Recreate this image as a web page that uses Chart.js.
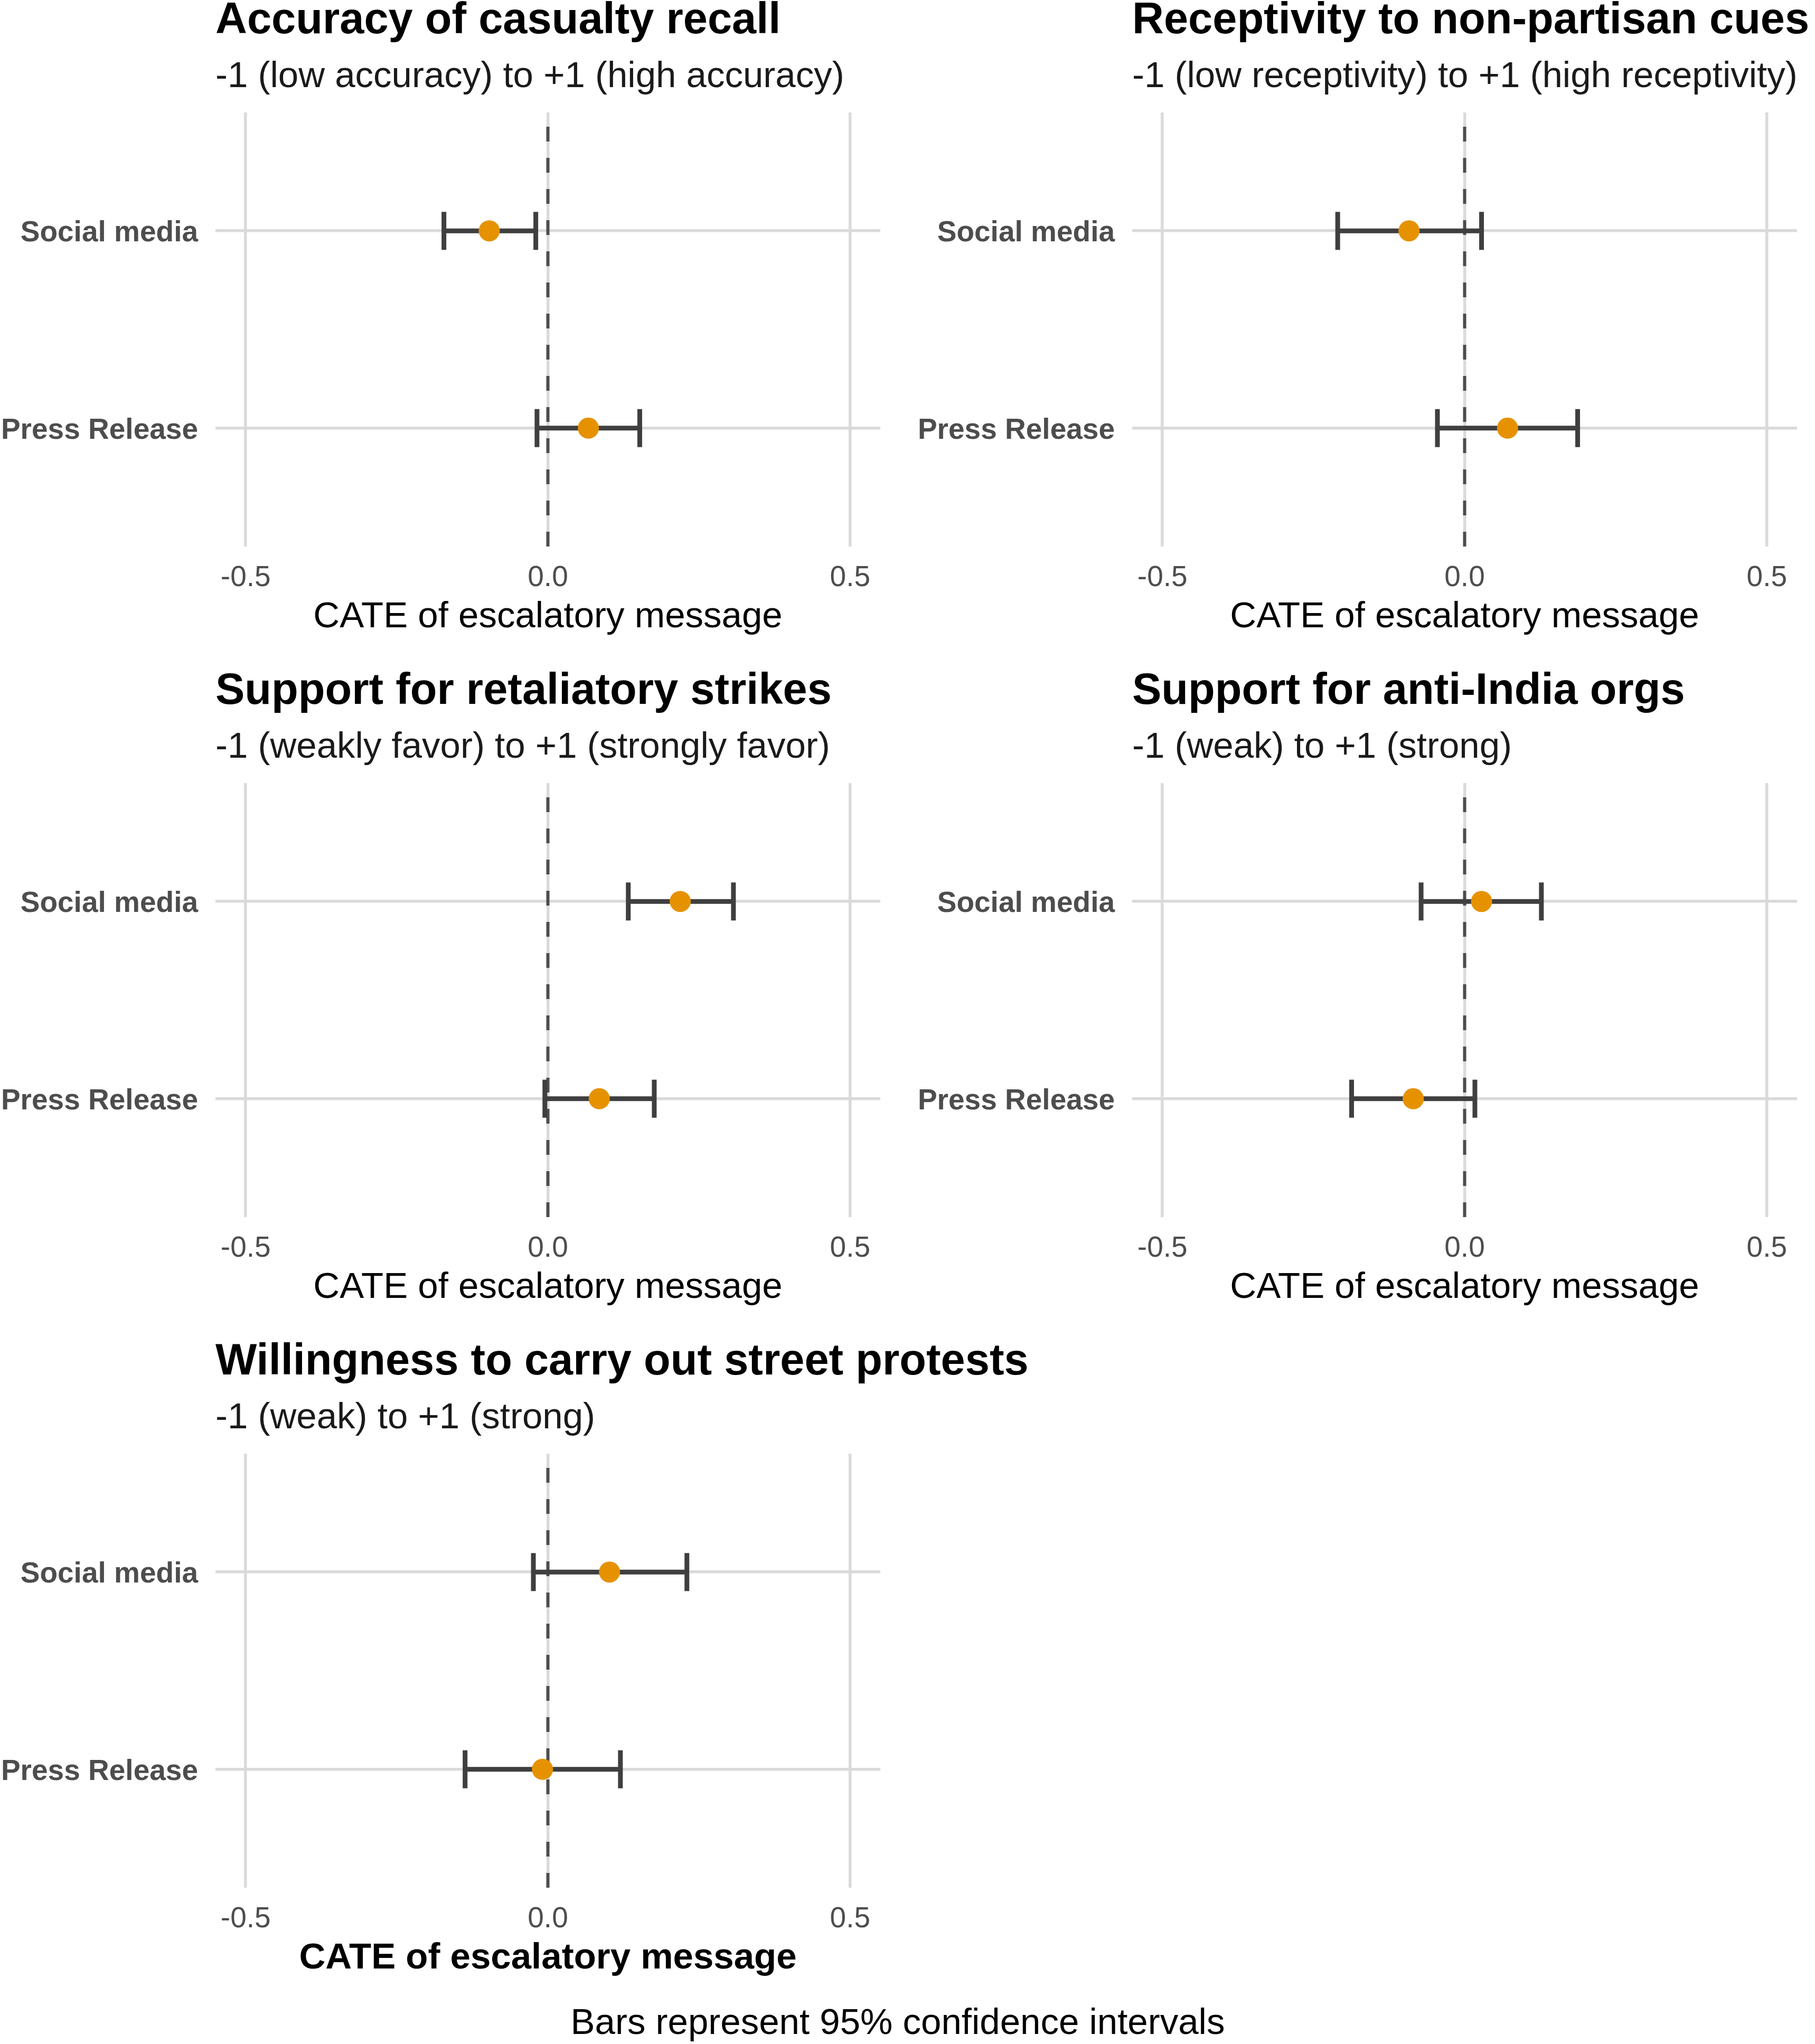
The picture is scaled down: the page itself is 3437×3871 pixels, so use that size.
<!DOCTYPE html>
<html>
<head>
<meta charset="utf-8">
<script src="https://cdn.jsdelivr.net/npm/chart.js@4/dist/chart.umd.min.js"></script>
<style>
  body { margin: 0; background: #ffffff; }
  #figure { position: relative; width: 3437px; height: 3871px; overflow: hidden; }
  #figure canvas { position: absolute; }
  #caption {
    position: absolute; left: 0; width: 3400px; top: 3788px;
    text-align: center; font-family: "Liberation Sans", Arial, sans-serif;
    font-size: 69px; line-height: 82px; color: #000;
  }
</style>
</head>
<body>
<div id="figure">
  <canvas id="c0" width="1701" height="1270" style="left:0px;top:0px"></canvas>
  <canvas id="c1" width="1701" height="1270" style="left:1736px;top:0px"></canvas>
  <canvas id="c2" width="1701" height="1270" style="left:0px;top:1270px"></canvas>
  <canvas id="c3" width="1701" height="1270" style="left:1736px;top:1270px"></canvas>
  <canvas id="c4" width="2100" height="1270" style="left:0px;top:2540px"></canvas>
  <div id="caption"></div>
</div>
<script>
var panelTitles = [
    'Accuracy of casualty recall',
    'Receptivity to non-partisan cues',
    'Support for retaliatory strikes',
    'Support for anti-India orgs',
    'Willingness to carry out street protests'
];
var panelSubtitles = [
    '-1 (low accuracy) to +1 (high accuracy)',
    '-1 (low receptivity) to +1 (high receptivity)',
    '-1 (weakly favor) to +1 (strongly favor)',
    '-1 (weak) to +1 (strong)',
    '-1 (weak) to +1 (strong)'
];
// bottom to top, like the ggplot factor order
var categories = ['Press Release', 'Social media'];

// one row per panel: [Press Release, Social media]
var estimates = [[0.067, -0.097], [0.071, -0.092], [0.085, 0.219], [-0.085, 0.028], [-0.009, 0.102]];
var lowerCI   = [[-0.018, -0.172], [-0.045, -0.210], [-0.005, 0.133], [-0.187, -0.072], [-0.137, -0.024]];
var upperCI   = [[0.152, -0.020], [0.187, 0.028], [0.176, 0.307], [0.017, 0.127], [0.120, 0.230]];

var xTicks = [-0.5, 0, 0.5];
var xAxisLabel = 'CATE of escalatory message';
var captionText = 'Bars represent 95% confidence intervals';

var FONT = '"Liberation Sans", Arial, sans-serif';
var gridColor = '#DADADA';

// title + subtitle, left edge on the panel (ggplot's default), not squeezed to the panel width
var panelText = {
    id: 'panelText',
    afterDraw: function(chart, args, opts) {
        var ctx = chart.ctx;
        var left = chart.chartArea.left;
        ctx.save();
        ctx.textAlign = 'left';
        ctx.textBaseline = 'middle';
        ctx.fillStyle = '#000000';
        ctx.font = 'bold 83px ' + FONT;
        ctx.fillText(opts.title, left, 40);
        ctx.fillStyle = '#1A1A1A';
        ctx.font = '69px ' + FONT;
        ctx.fillText(opts.subtitle, left, 146);
        ctx.restore();
    }
};

// draws the dashed zero line and the CI whiskers under the points
var errorBars = {
    id: 'errorBars',
    beforeDatasetsDraw: function(chart, args, opts) {
        var ctx = chart.ctx;
        var xs = chart.scales.x, ys = chart.scales.y, area = chart.chartArea;
        ctx.save();
        ctx.strokeStyle = '#4D4D4D';
        ctx.lineWidth = 6;
        ctx.setLineDash([28, 31]);
        var x0 = xs.getPixelForValue(0);
        ctx.beginPath();
        ctx.moveTo(x0, area.bottom);   // pattern starts at the bottom like ggplot
        ctx.lineTo(x0, area.top);
        ctx.stroke();

        ctx.setLineDash([]);
        ctx.strokeStyle = '#3F3F3F';
        ctx.lineWidth = 9;
        for (var i = 0; i < opts.lower.length; i++) {
            var y = ys.getPixelForValue(i + 1);
            var xl = xs.getPixelForValue(opts.lower[i]);
            var xh = xs.getPixelForValue(opts.upper[i]);
            ctx.beginPath();
            ctx.moveTo(xl, y); ctx.lineTo(xh, y);
            ctx.moveTo(xl, y - 36); ctx.lineTo(xl, y + 36);
            ctx.moveTo(xh, y - 36); ctx.lineTo(xh, y + 36);
            ctx.stroke();
        }
        ctx.restore();
    }
};

var makePanel = function(k) {
    var canvas = document.getElementById('c' + k);
    var points = [];
    for (var i = 0; i < categories.length; i++) {
        points.push({ x: estimates[k][i], y: i + 1 });
    }
    var boldAxis = (k == 4);

    new Chart(canvas, {
        type: 'scatter',
        data: {
            datasets: [{
                data: points,
                backgroundColor: '#E69200',
                borderWidth: 0,
                pointRadius: 20,
                pointHoverRadius: 20
            }]
        },
        options: {
            responsive: false,
            animation: false,
            devicePixelRatio: 1,
            events: [],
            layout: { padding: { left: 0, right: canvas.width - 1667, top: 213, bottom: 0 } },
            plugins: {
                legend: { display: false },
                tooltip: { enabled: false },
                title: { display: false },
                panelText: { title: panelTitles[k], subtitle: panelSubtitles[k] },
                errorBars: { lower: lowerCI[k], upper: upperCI[k] }
            },
            scales: {
                x: {
                    type: 'linear',
                    min: -0.55,
                    max: 0.55,
                    afterBuildTicks: function(scale) {
                        scale.ticks = xTicks.map(function(v) { return { value: v }; });
                    },
                    afterFit: function(scale) { scale.height = 235; },
                    grid: { color: gridColor, lineWidth: 5.5, drawTicks: false },
                    border: { display: false },
                    ticks: {
                        color: '#4D4D4D',
                        padding: 27,
                        maxRotation: 0,
                        font: { family: FONT, size: 55 },
                        callback: function(v) { return Number(v).toFixed(1); }
                    },
                    title: {
                        display: true,
                        text: xAxisLabel,
                        color: '#000000',
                        font: { family: FONT, size: 69, weight: boldAxis ? 'bold' : 'normal', lineHeight: 1.2 },
                        padding: { top: 0, bottom: 60 }
                    }
                },
                y: {
                    type: 'linear',
                    min: 0.4,
                    max: 2.6,
                    afterBuildTicks: function(scale) {
                        scale.ticks = categories.map(function(c, i) { return { value: i + 1 }; });
                    },
                    afterFit: function(scale) { scale.width = 408; },
                    grid: { color: gridColor, lineWidth: 5.5, drawTicks: false },
                    border: { display: false },
                    ticks: {
                        color: '#4D4D4D',
                        padding: 33,
                        labelOffset: 5,
                        font: { family: FONT, size: 55, weight: 'bold' },
                        callback: function(v) { return categories[v - 1]; }
                    }
                }
            }
        },
        plugins: [errorBars, panelText]
    });
};

for (var k = 0; k < panelTitles.length; k++) {
    makePanel(k);
}
document.getElementById('caption').textContent = captionText;
</script>
</body>
</html>
